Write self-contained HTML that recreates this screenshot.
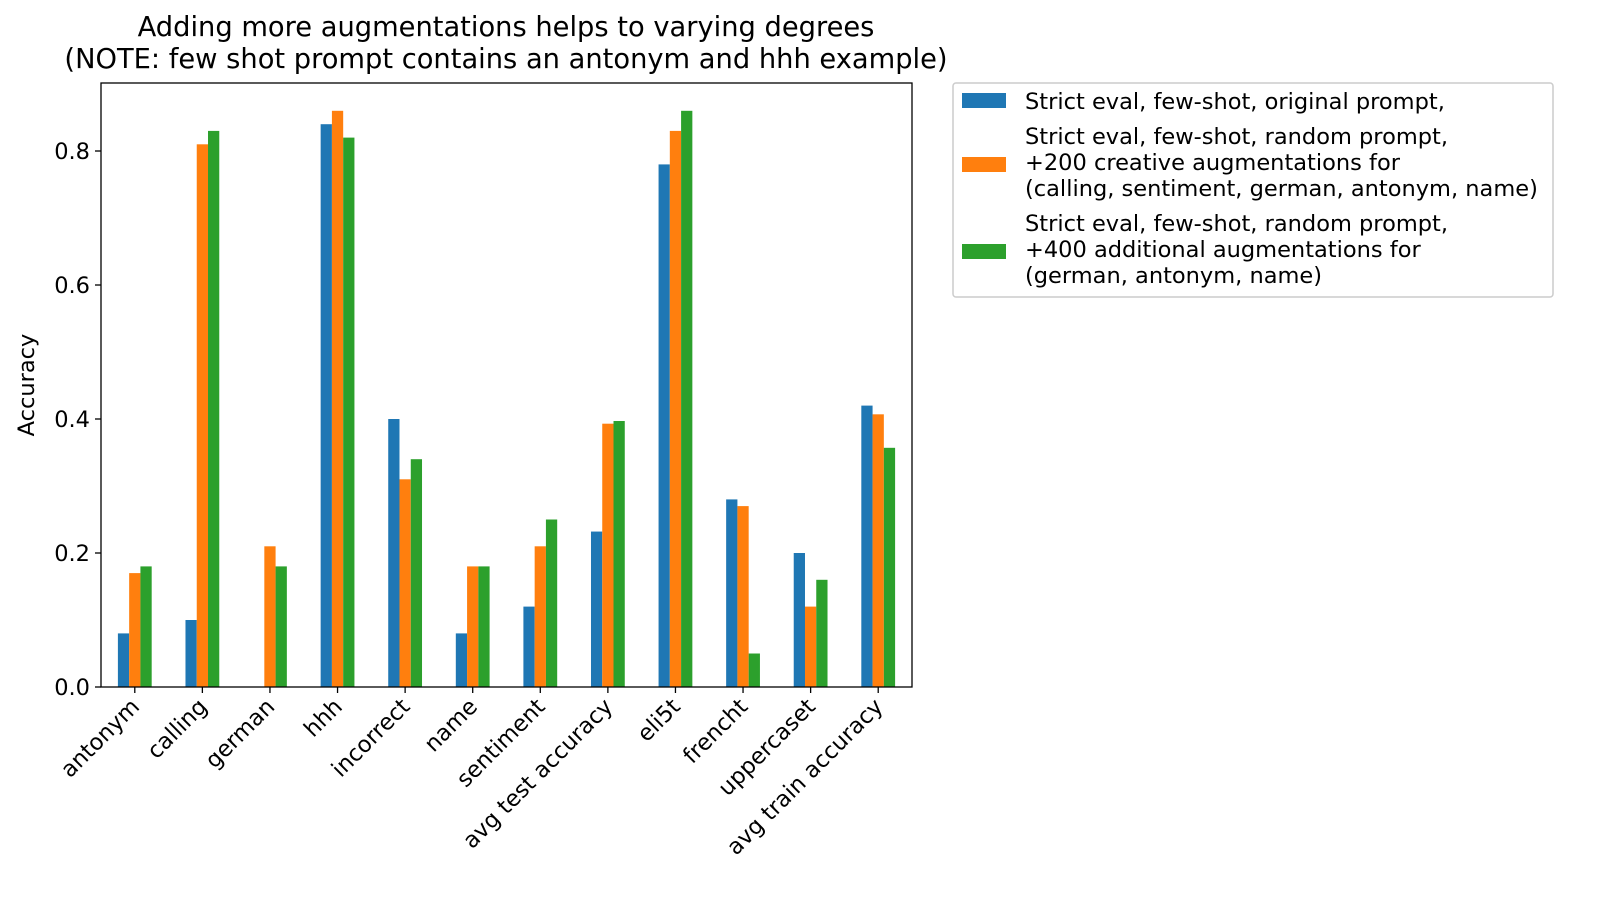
<!DOCTYPE html>
<html><head><meta charset="utf-8"><style>
body{margin:0;background:#fff;}
svg text{font-family:"DejaVu Sans","Liberation Sans",sans-serif;fill:#000;}
</style></head><body>
<svg id="chart" width="1600" height="903" xmlns="http://www.w3.org/2000/svg">
<text x="506" y="36" font-size="27.3" text-anchor="middle">Adding more augmentations helps to varying degrees</text>
<text x="506" y="68" font-size="27.3" text-anchor="middle">(NOTE: few shot prompt contains an antonym and hhh example)</text>
<text transform="translate(34,385) rotate(-90)" font-size="22.5" text-anchor="middle">Accuracy</text>
<g id="bars"></g>
<g id="axes"></g>
<g>
<rect x="953" y="83" width="600" height="214" fill="#fff" stroke="#ccc" stroke-width="1.5" rx="3"/>
<rect x="962" y="93" width="44" height="15" fill="#1f77b4"/>
<text x="1025" y="109" font-size="22.5">Strict eval, few-shot, original prompt,</text>
<rect x="962" y="157" width="44" height="15" fill="#ff7f0e"/>
<text x="1025" y="144" font-size="22.5">Strict eval, few-shot, random prompt,</text>
<text x="1025" y="170" font-size="22.5">+200 creative augmentations for</text>
<text x="1025" y="196" font-size="22.5">(calling, sentiment, german, antonym, name)</text>
<rect x="962" y="244" width="44" height="15" fill="#2ca02c"/>
<text x="1025" y="231" font-size="22.5">Strict eval, few-shot, random prompt,</text>
<text x="1025" y="257" font-size="22.5">+400 additional augmentations for</text>
<text x="1025" y="283" font-size="22.5">(german, antonym, name)</text>
</g>
</svg>
<script>
const categories=["antonym","calling","german","hhh","incorrect","name","sentiment","avg test accuracy","eli5t","frencht","uppercaset","avg train accuracy"];
const original=[0.08,0.10,0,0.84,0.40,0.08,0.12,0.232,0.78,0.28,0.20,0.42];
const creative=[0.17,0.81,0.21,0.86,0.31,0.18,0.21,0.393,0.83,0.27,0.12,0.407];
const additional=[0.18,0.83,0.18,0.82,0.34,0.18,0.25,0.397,0.86,0.05,0.16,0.357];
const yTicks=[0,0.2,0.4,0.6,0.8];
const L=101,R=912,T=83,B=687,yMax=0.9015;
const NS="http://www.w3.org/2000/svg";
const step=(R-L)/categories.length;
const xc=i=>L+step*(i+0.5);
const y=v=>B-(v/yMax)*(B-T);
const bw=step*0.5/3;
const bars=document.getElementById('bars'),axes=document.getElementById('axes');
function mk(tag,attrs,parent){const e=document.createElementNS(NS,tag);for(const k in attrs)e.setAttribute(k,attrs[k]);parent.appendChild(e);return e;}
[[original,"#1f77b4","original"],[creative,"#ff7f0e","creative"],[additional,"#2ca02c","additional"]].forEach(([arr,col,nm],s)=>{
 arr.forEach((v,i)=>{
  const r=mk('rect',{x:xc(i)+(s-1.5)*bw,y:y(v),width:bw,height:B-y(v),fill:col},bars);
  
  
 });
});
const frame=mk('rect',{x:L,y:T,width:R-L,height:B-T,fill:'none',stroke:'#000','stroke-width':1.3},axes);


yTicks.forEach(t=>{
 mk('line',{x1:L-6,x2:L,y1:y(t),y2:y(t),stroke:'#000','stroke-width':1.3},axes);
 const tx=mk('text',{x:L-11,y:y(t)+8,'font-size':22.5,'text-anchor':'end'},axes);
 tx.textContent=t.toFixed(1);
 
 
});
categories.forEach((c,i)=>{
 mk('line',{x1:xc(i),x2:xc(i),y1:B,y2:B+6,stroke:'#000','stroke-width':1.3},axes);
 const tx=mk('text',{transform:`translate(${xc(i)+6},${B+21}) rotate(-45)`,'font-size':22.5,'text-anchor':'end'},axes);
 tx.textContent=c;
 
 
});
</script>
</body></html>
